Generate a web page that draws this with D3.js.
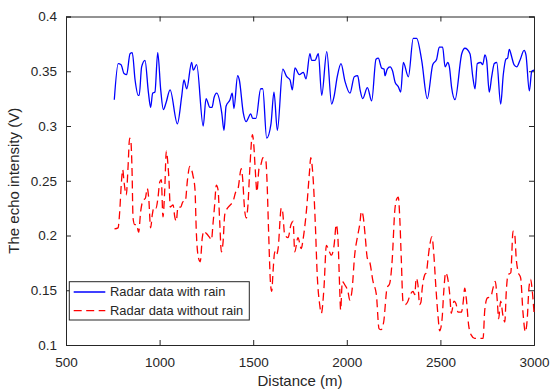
<!DOCTYPE html>
<html>
<head>
<meta charset="utf-8">
<script src="https://cdn.jsdelivr.net/npm/d3@7"></script>
<style>
  body { margin: 0; background: #fff; }
  svg text { font-family: "Liberation Sans", Arial, Helvetica, sans-serif; fill: #262626; }
</style>
</head>
<body>
<svg id="chart" width="551" height="391"></svg>
<script>
// radar echo with rain (blue, solid)
const rainDist = [758,779,794,810,824,842,854,869,886,891,904,922,940,952,963,975,990,1006,1020,1034,1056,1095,1118,1130,1145,1171,1180,1198,1233,1248,1269,1280,1291,1305,1332,1344,1355,1376,1388,1397,1417,1426,1447,1462,1487,1497,1515,1540,1551,1572,1595,1611,1629,1658,1679,1697,1709,1723,1746,1768,1782,1803,1812,1830,1848,1866,1893,1919,1932,1949,1969,1990,2017,2040,2058,2071,2085,2110,2133,2156,2168,2186,2199,2204,2216,2231,2245,2258,2275,2288,2302,2329,2355,2373,2400,2430,2459,2480,2494,2512,2525,2539,2548,2560,2578,2614,2631,2658,2673,2685,2697,2715,2726,2738,2747,2761,2774,2788,2801,2822,2836,2850,2859,2868,2881,2893,2908,2925,2947,2957,2975,2988,3000];
const rainVal = [.324,.357,.356,.348,.347,.366,.367,.342,.328,.328,.354,.360,.331,.317,.330,.331,.367,.333,.315,.321,.333,.302,.327,.342,.334,.358,.351,.356,.300,.325,.317,.317,.326,.330,.312,.296,.318,.324,.330,.316,.346,.342,.312,.304,.311,.307,.307,.334,.334,.289,.302,.331,.296,.352,.345,.342,.333,.353,.347,.349,.343,.366,.360,.360,.366,.328,.368,.320,.327,.345,.357,.341,.330,.345,.346,.333,.325,.335,.323,.361,.362,.353,.352,.346,.352,.354,.350,.340,.336,.331,.358,.345,.380,.380,.360,.325,.356,.361,.372,.372,.354,.358,.354,.335,.324,.366,.371,.366,.345,.334,.357,.358,.356,.365,.360,.331,.345,.357,.358,.320,.347,.361,.362,.370,.363,.356,.354,.360,.369,.365,.332,.350,.351];

// radar echo without rain (red, dashed)
const dryDist = [759,778,787,795,803,810,822,831,840,846,853,858,867,877,888,899,911,924,934,942,952,961,970,981,991,1001,1009,1018,1027,1036,1045,1050,1057,1072,1081,1089,1098,1113,1125,1137,1149,1161,1178,1189,1196,1205,1217,1228,1236,1249,1268,1277,1285,1294,1303,1312,1321,1330,1339,1348,1356,1378,1392,1407,1419,1436,1442,1455,1463,1472,1481,1496,1503,1511,1520,1531,1540,1552,1567,1574,1582,1593,1599,1606,1615,1623,1633,1650,1657,1668,1686,1702,1713,1722,1739,1757,1766,1784,1802,1807,1819,1832,1842,1855,1864,1878,1891,1903,1917,1932,1944,1953,1962,1967,1976,1989,2006,2016,2028,2042,2056,2069,2078,2087,2099,2110,2122,2140,2158,2172,2183,2197,2215,2229,2243,2256,2264,2275,2283,2291,2300,2313,2324,2339,2354,2363,2371,2380,2389,2396,2403,2416,2425,2434,2443,2455,2464,2475,2487,2496,2509,2518,2528,2541,2550,2558,2573,2583,2594,2612,2621,2630,2638,2651,2665,2683,2710,2728,2737,2751,2769,2781,2793,2804,2811,2822,2834,2844,2852,2861,2876,2888,2897,2905,2915,2929,2941,2954,2964,2973,2982,2991,3000];
const dryVal = [.206,.207,.222,.246,.260,.249,.237,.261,.289,.287,.258,.216,.210,.210,.203,.222,.232,.234,.243,.234,.207,.219,.226,.225,.234,.249,.251,.217,.240,.277,.264,.251,.226,.228,.217,.213,.226,.226,.231,.231,.251,.263,.255,.242,.204,.182,.176,.198,.204,.202,.198,.196,.210,.228,.246,.242,.213,.185,.194,.219,.223,.228,.231,.240,.243,.261,.255,.222,.216,.228,.258,.292,.283,.260,.240,.261,.264,.271,.269,.249,.205,.155,.149,.167,.185,.182,.188,.225,.222,.201,.198,.210,.213,.185,.198,.188,.196,.222,.261,.271,.255,.210,.164,.137,.129,.152,.191,.187,.182,.191,.210,.196,.152,.132,.158,.155,.149,.141,.150,.182,.198,.210,.222,.218,.198,.179,.176,.158,.146,.115,.114,.121,.152,.156,.179,.222,.232,.235,.216,.179,.140,.137,.139,.146,.149,.146,.161,.155,.137,.139,.152,.164,.166,.179,.191,.199,.185,.155,.127,.113,.124,.149,.166,.159,.146,.129,.140,.138,.130,.130,.138,.152,.143,.118,.109,.106,.106,.106,.132,.143,.144,.152,.158,.140,.124,.140,.127,.121,.149,.164,.166,.204,.201,.179,.167,.161,.130,.112,.124,.152,.160,.149,.130];

const xTicks = [500, 1000, 1500, 2000, 2500, 3000];
const yTicks = [0.1, 0.15, 0.2, 0.25, 0.3, 0.35, 0.4];
const seriesNames = ["Radar data with rain", "Radar data without rain"];

const margin = {top: 16.5, right: 17, bottom: 46, left: 66},
      width = 551 - margin.left - margin.right,
      height = 391 - margin.top - margin.bottom;

const svg = d3.select("#chart")
  .append("g")
  .attr("transform", "translate(" + margin.left + "," + margin.top + ")");

const x = d3.scaleLinear().domain([500, 3000]).range([0, width]);
const y = d3.scaleLinear().domain([0.1, 0.4]).range([height, 0]);

const axisColor = "#262626";
function styleAxis(g) {
  g.select(".domain").attr("stroke", axisColor).attr("stroke-width", 1);
  g.selectAll(".tick line").attr("stroke", axisColor).attr("stroke-width", 1);
  g.selectAll("text").attr("fill", axisColor).style("font-size", "13.5px")
    .style("font-family", "'Liberation Sans', Arial, sans-serif");
}

// bottom / left with labels, ticks pointing inward like matlab
svg.append("g")
  .attr("transform", "translate(0," + height + ")")
  .call(d3.axisBottom(x).tickValues(xTicks).tickSize(-5).tickPadding(12).tickFormat(d3.format("d")))
  .call(styleAxis);
svg.append("g")
  .call(d3.axisLeft(y).tickValues(yTicks).tickSize(-5).tickPadding(9).tickFormat(d => d3.format("")(+d.toFixed(2))))
  .call(styleAxis);
// top / right box
svg.append("g")
  .call(d3.axisTop(x).tickValues(xTicks).tickSize(-5).tickFormat(""))
  .call(styleAxis);
svg.append("g")
  .attr("transform", "translate(" + width + ",0)")
  .call(d3.axisRight(y).tickValues(yTicks).tickSize(-5).tickFormat(""))
  .call(styleAxis);

const line = d3.line()
  .x(d => x(d[0]))
  .y(d => y(d[1]))
  .curve(d3.curveMonotoneX);

const rainData = rainDist.map((d, i) => [d, rainVal[i]]);
const dryData = dryDist.map((d, i) => [d, dryVal[i]]);

svg.append("path")
  .datum(rainData)
  .attr("fill", "none")
  .attr("stroke", "#0000ff")
  .attr("stroke-width", 1.3)
  .attr("d", line);

svg.append("path")
  .datum(dryData)
  .attr("fill", "none")
  .attr("stroke", "#ff0000")
  .attr("stroke-width", 1.3)
  .attr("stroke-dasharray", "8,4.5")
  .attr("d", line);

// axis labels
svg.append("text")
  .text("Distance (m)")
  .attr("x", width / 2)
  .attr("y", height + 41)
  .attr("text-anchor", "middle")
  .style("font-size", "15px");
svg.append("text")
  .text("The echo intensity (V)")
  .attr("transform", "translate(" + (-47) + "," + (height / 2) + ") rotate(-90)")
  .attr("text-anchor", "middle")
  .style("font-size", "15px");

// legend
const legend = svg.append("g").attr("transform", "translate(3.3,265.2)");
legend.append("rect")
  .attr("width", 180).attr("height", 38.3)
  .attr("fill", "#fff").attr("stroke", axisColor).attr("stroke-width", 1);
const colors = ["#0000ff", "#ff0000"];
const dashes = [null, "8,4.5"];
seriesNames.forEach((name, i) => {
  const ly = 10.3 + i * 18.7;
  legend.append("line")
    .attr("x1", 4.4).attr("x2", 36)
    .attr("y1", ly).attr("y2", ly)
    .attr("stroke", colors[i]).attr("stroke-width", 1.3)
    .attr("stroke-dasharray", dashes[i]);
  legend.append("text")
    .text(name)
    .attr("x", 40.7).attr("y", ly + 4.5)
    .style("font-size", "12.9px");
});
</script>
</body>
</html>
